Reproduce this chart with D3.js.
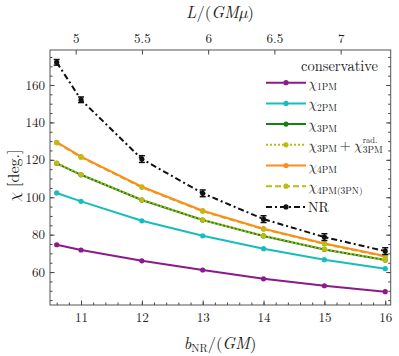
<!DOCTYPE html>
<meta charset="utf-8">
<script src="https://d3js.org/d3.v7.min.js"></script>
<style>
  body { margin: 0; background: #fff; }
  svg text { font-family: "Latin Modern Roman", "Latin Modern Math", "CMU Serif", serif; fill: #222; }
  .tick line { stroke: #444; }
  .tick text { font-size: 13px; }
  .domain { display: none; }
</style>
<body>
<div id="my_dataviz"></div>
<script>
// data
var bNR      = [10.6, 11, 12, 13, 14, 15, 16];
var chi1PM   = [74.6, 71.8, 66.0, 61.1, 56.4, 52.7, 49.5];
var chi2PM   = [102.3, 97.8, 87.4, 79.4, 72.5, 66.6, 61.8];
var chi3PM   = [118.1, 112.0, 98.5, 87.8, 79.3, 72.1, 66.4];
var chi3PMrad = [118.2, 112.1, 98.6, 87.9, 79.4, 72.2, 66.5];
var chi4PM   = [129.4, 121.7, 105.6, 92.8, 83.2, 75.3, 68.6];
var chi4PM3PN = [129.1, 121.4, 105.3, 92.5, 82.9, 75.0, 68.3];
var chiNR    = [172.1, 152.1, 120.4, 102.1, 88.3, 78.7, 71.2];
var errNR    = [1.5, 1.5, 1.8, 1.8, 1.8, 1.8, 1.8];
var xTicks = [11, 12, 13, 14, 15, 16];
var yTicks = [60, 80, 100, 120, 140, 160];
var lTicks = [5, 5.5, 6, 6.5, 7];

var margin = {top: 50, right: 8.3, bottom: 51, left: 50},
    width = 399 - margin.left - margin.right,
    height = 356 - margin.top - margin.bottom;

var svg = d3.select("#my_dataviz")
  .append("svg")
    .attr("width", 399)
    .attr("height", 356)
  .append("g")
    .attr("transform", "translate(" + margin.left + "," + margin.top + ")");

var x = d3.scaleLinear().domain([10.49, 16.09]).range([0, width]);
var y = d3.scaleLinear().domain([42.4, 178.7]).range([height, 0]);
var xL = d3.scaleLinear().domain([4.806, 7.378]).range([0, width]);

// axes, ticks pointing inward
svg.append("g").attr("transform", "translate(0," + height + ")")
  .call(d3.axisBottom(x).tickValues(xTicks).tickFormat(d3.format("d")).tickSize(-4.5).tickSizeOuter(0).tickPadding(8));
svg.append("g").attr("transform", "translate(0," + height + ")")
  .call(d3.axisBottom(x).tickValues(d3.range(10.6, 16.05, 0.2)).tickSize(-2.5).tickFormat("").tickSizeOuter(0));
svg.append("g")
  .call(d3.axisLeft(y).tickValues(yTicks).tickFormat(d3.format("d")).tickSize(-4.5).tickSizeOuter(0).tickPadding(5));
svg.append("g")
  .call(d3.axisLeft(y).tickValues(d3.range(45, 178, 5)).tickSize(-2.5).tickFormat("").tickSizeOuter(0));
svg.append("g").attr("transform", "translate(" + width + ",0)")
  .call(d3.axisRight(y).tickValues(yTicks).tickSize(-4.5).tickFormat("").tickSizeOuter(0));
svg.append("g").attr("transform", "translate(" + width + ",0)")
  .call(d3.axisRight(y).tickValues(d3.range(45, 178, 5)).tickSize(-2.5).tickFormat("").tickSizeOuter(0));
svg.append("g")
  .call(d3.axisTop(xL).tickValues(lTicks).tickFormat(d3.format("~g")).tickSize(-4.5).tickSizeOuter(0).tickPadding(7));

svg.selectAll("g").attr("font-family", null);

svg.append("rect")
  .attr("width", width).attr("height", height)
  .attr("fill", "none").attr("stroke", "#555").attr("stroke-width", 1);

// series
var line = d3.line()
  .x(function(d, i) { return x(bNR[i]); })
  .y(function(d) { return y(d); });

function drawLine(vals, color, dash) {
  svg.append("path").datum(vals)
    .attr("fill", "none").attr("stroke", color).attr("stroke-width", 2)
    .attr("stroke-dasharray", dash || null)
    .attr("d", line);
}
function drawDots(vals, color) {
  svg.selectAll(null).data(vals).enter().append("circle")
    .attr("cx", function(d, i) { return x(bNR[i]); })
    .attr("cy", function(d) { return y(d); })
    .attr("r", 2.6).attr("fill", color);
}

var cPurple = "#8b1a8b", cCyan = "#17bdbd", cGreen = "#168016",
    cOlive = "#bcbc12", cOrange = "#ff8c1a";

drawLine(chi1PM, cPurple); drawDots(chi1PM, cPurple);
drawLine(chi2PM, cCyan); drawDots(chi2PM, cCyan);
drawLine(chi3PM, cGreen); drawDots(chi3PM, cGreen);
drawLine(chi3PMrad, cOlive, "2,2"); drawDots(chi3PMrad, cOlive);
drawLine(chi4PM3PN, cOlive, "6,3");
drawLine(chi4PM, cOrange); drawDots(chi4PM, cOrange);
drawDots(chi4PM3PN, cOlive);

// NR with error bars
drawLine(chiNR, "#111", "6,3,2,3");
var eb = svg.selectAll(null).data(chiNR).enter().append("g");
eb.append("line")
  .attr("x1", function(d, i) { return x(bNR[i]); })
  .attr("x2", function(d, i) { return x(bNR[i]); })
  .attr("y1", function(d, i) { return y(d - errNR[i]); })
  .attr("y2", function(d, i) { return y(d + errNR[i]); })
  .attr("stroke", "#111").attr("stroke-width", 1.5);
[-1, 1].forEach(function(s) {
  eb.append("line")
    .attr("x1", function(d, i) { return x(bNR[i]) - 3; })
    .attr("x2", function(d, i) { return x(bNR[i]) + 3; })
    .attr("y1", function(d, i) { return y(d + s * errNR[i]); })
    .attr("y2", function(d, i) { return y(d + s * errNR[i]); })
    .attr("stroke", "#111").attr("stroke-width", 1.5);
});
drawDots(chiNR, "#111");

// axis labels
var root = d3.select("svg");
var xl = root.append("text").attr("x", 220).attr("y", 349)
  .attr("text-anchor", "middle").style("font-size", "16.5px");
xl.append("tspan").attr("font-style", "italic").text("b");
xl.append("tspan").attr("font-size", "11px").attr("dy", 3).text("NR");
xl.append("tspan").attr("dy", -3).text("/(");
xl.append("tspan").attr("font-style", "italic").text("GM");
xl.append("tspan").text(")");

var tl = root.append("text").attr("x", 220).attr("y", 18)
  .attr("text-anchor", "middle").style("font-size", "16.5px");
tl.append("tspan").attr("font-style", "italic").text("L");
tl.append("tspan").text("/(");
tl.append("tspan").attr("font-style", "italic").text("GMμ");
tl.append("tspan").text(")");

var yl = root.append("text")
  .attr("transform", "translate(18.5,176) rotate(-90)")
  .attr("text-anchor", "middle").style("font-size", "16px");
yl.append("tspan").attr("font-style", "italic").text("χ");
yl.append("tspan").text(" [deg.]");

// legend
var legNames = ["1PM", "2PM", "3PM", "3PM", "4PM", "4PM(3PN)", "NR"];
var legColors = [cPurple, cCyan, cGreen, cOlive, cOrange, cOlive, "#111"];
var legDash = [null, null, null, "2,2", null, "6,3", "6,3,2,3"];
var leg = root.append("g");
leg.append("text").attr("x", 378).attr("y", 70.5)
  .attr("text-anchor", "end").style("font-size", "14.5px").text("conservative");
legNames.forEach(function(name, i) {
  var yy = 82.7 + i * 20.7;
  leg.append("line").attr("x1", 266).attr("x2", 306).attr("y1", yy).attr("y2", yy)
    .attr("stroke", legColors[i]).attr("stroke-width", 2)
    .attr("stroke-dasharray", legDash[i]);
  leg.append("circle").attr("cx", 286).attr("cy", yy).attr("r", 2.6).attr("fill", legColors[i]);
  var t = leg.append("text").attr("x", 308).attr("y", yy + 5).style("font-size", "14px");
  if (name === "NR") { t.text("NR"); return; }
  t.append("tspan").attr("font-style", "italic").text("χ");
  t.append("tspan").attr("font-size", "9.5px").attr("dy", 2.5).text(name);
  if (i === 3) {
    t.append("tspan").attr("dy", -2.5).text("\u2009+\u2009");
    t.append("tspan").attr("font-style", "italic").text("χ");
    var w = t.node().getComputedTextLength();
    leg.append("text").attr("x", 308 + w + 0.3).attr("y", yy - 2)
      .style("font-size", "8.5px").text("rad.");
    leg.append("text").attr("x", 308 + w + 0.3).attr("y", yy + 8)
      .style("font-size", "9.5px").text("3PM");
  }
});
</script>
</body>
